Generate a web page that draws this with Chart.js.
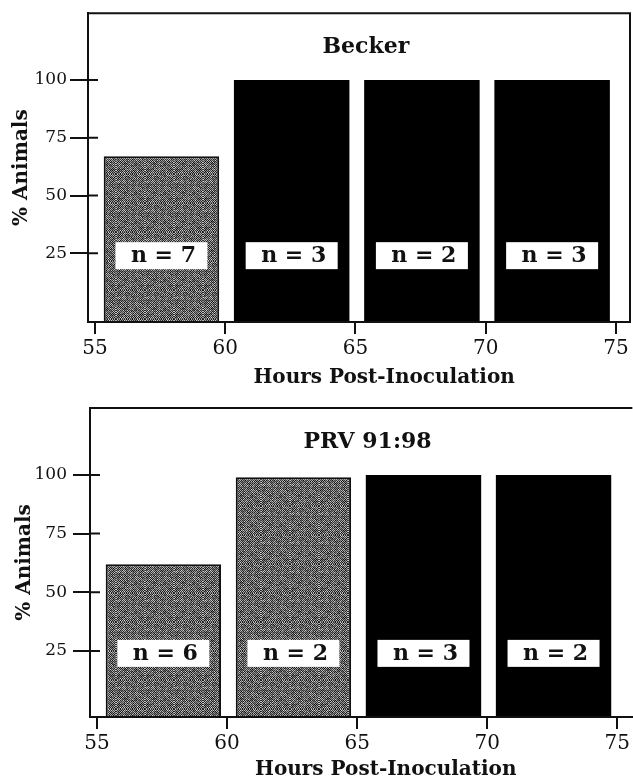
<!DOCTYPE html>
<html lang="en">
<head>
<meta charset="UTF-8">
<title>% Animals by hours post-inoculation</title>
<script src="https://cdn.jsdelivr.net/npm/chart.js"></script>
<style>
    body { margin: 0; background: #fff; }
    .panel { position: relative; width: 633px; }
    #top { height: 390px; }
    #bottom { height: 392px; }
</style>
</head>
<body>
<div class="panel" id="top"><canvas id="beckerChart"></canvas></div>
<div class="panel" id="bottom"><canvas id="prvChart"></canvas></div>
<script>
// bar centres, hours post-inoculation
const hours = [57.55, 62.55, 67.55, 72.55];
const xTicks = [55, 60, 65, 70, 75];
const yTicks = [25, 50, 75, 100];

// Becker
const beckerPct = [67, 100, 100, 100];
const beckerN = [7, 3, 2, 3];
const beckerFill = ['stipple', 'solid', 'solid', 'solid'];

// PRV 91:98
const prvPct = [62, 99, 100, 100];
const prvN = [6, 2, 3, 2];
const prvFill = ['stipple', 'stipple', 'solid', 'solid'];

const SERIF = '"DejaVu Serif", serif';
const INK = '#111';

// grainy checker texture for the stippled bars (deterministic hash, no randomness)
function stipple() {
    const N = 29;
    const c = document.createElement('canvas');
    c.width = c.height = N;
    const g = c.getContext('2d');
    for (let i = 0; i < N; i++) {
        for (let j = 0; j < N; j++) {
            const h = ((i * 73 + j * 151 + i * j * 17) % 97) / 97;
            const blot = ((Math.floor(i / 3) * 11 + Math.floor(j / 4) * 7 + i * j) % 7) / 7;
            let s = (i + j) % 2 ? 130 + h * 90 : 30 + h * 60;
            s -= blot * 45;
            s = Math.round(Math.max(15, Math.min(235, s)));
            g.fillStyle = `rgb(${s},${s},${s})`;
            g.fillRect(i, j, 1, 1);
        }
    }
    return g.createPattern(c, 'repeat');
}
const texture = stipple();

// frame, inner tick stubs, n boxes, titles
const panelDecor = {
    id: 'panelDecor',
    afterDatasetsDraw(chart, args, opts) {
        const { ctx, chartArea: a, scales: { x, y } } = chart;
        ctx.save();
        ctx.strokeStyle = INK;
        ctx.lineWidth = 2;
        ctx.beginPath();
        ctx.moveTo(a.left, a.bottom);
        ctx.lineTo(a.left, a.top);
        ctx.lineTo(a.right, a.top);
        if (opts.rightEdge) ctx.lineTo(a.right, a.bottom);
        ctx.moveTo(a.left - 1, a.bottom);
        ctx.lineTo(a.right, a.bottom);
        yTicks.forEach(v => {
            const py = y.getPixelForValue(v);
            ctx.moveTo(a.left, py);
            ctx.lineTo(a.left + 10, py);
        });
        ctx.stroke();

        ctx.textAlign = 'center';
        ctx.textBaseline = 'middle';
        const cy = y.getPixelForValue(opts.labelAt);
        chart.getDatasetMeta(0).data.forEach((bar, i) => {
            ctx.fillStyle = '#fff';
            ctx.fillRect(bar.x - 46, cy - 13.5, 92, 27);
            ctx.fillStyle = INK;
            ctx.font = `bold 22px ${SERIF}`;
            ctx.fillText('n = ' + opts.counts[i], bar.x + 2, cy + 1);
        });

        ctx.font = `bold 22px ${SERIF}`;
        ctx.fillText(opts.title, x.getPixelForValue(65.4), y.getPixelForValue(114));
        ctx.font = `bold 20px ${SERIF}`;
        ctx.fillText('Hours Post-Inoculation', x.getPixelForValue(66.1), chart.height - 12);
        ctx.restore();
    }
};

function makeChart(id, pct, counts, fills, title, frame) {
    const ctx = document.getElementById(id).getContext('2d');
    return new Chart(ctx, {
        type: 'bar',
        data: {
            datasets: [{
                data: hours.map((h, i) => ({ x: h, y: pct[i] })),
                base: frame.yMin,
                backgroundColor: fills.map(f => f === 'stipple' ? texture : '#000'),
                borderColor: INK,
                borderWidth: fills.map(f => f === 'stipple' ? 2 : 0),
                categoryPercentage: 1,
                barPercentage: 0.887
            }]
        },
        options: {
            responsive: true,
            maintainAspectRatio: false,
            animation: false,
            layout: { padding: { left: 0, top: frame.top, right: frame.right, bottom: 0 } },
            plugins: {
                legend: { display: false },
                tooltip: { enabled: false },
                panelDecor: { counts: counts, title: title, labelAt: 24, rightEdge: frame.rightEdge }
            },
            scales: {
                x: {
                    type: 'linear',
                    min: frame.xMin,
                    max: frame.xMax,
                    offset: false,
                    afterBuildTicks: s => { s.ticks = xTicks.map(v => ({ value: v })); },
                    afterFit: s => { s.height = frame.xHeight; },
                    grid: { offset: false, drawOnChartArea: false, drawTicks: true, tickLength: 12, color: INK, lineWidth: 2 },
                    border: { display: true, color: INK, width: 2 },
                    ticks: { color: INK, padding: 3, maxRotation: 0, font: { family: SERIF, size: 20 } }
                },
                y: {
                    min: frame.yMin,
                    max: frame.yMax,
                    afterBuildTicks: s => { s.ticks = yTicks.map(v => ({ value: v })); },
                    afterFit: s => { s.width = frame.yWidth; },
                    grid: { drawOnChartArea: false, drawTicks: true, tickLength: frame.tickLen, color: INK, lineWidth: 2 },
                    border: { display: true, color: INK, width: 2 },
                    ticks: { color: INK, padding: frame.tickPad, font: { family: SERIF, size: 17 } },
                    title: {
                        display: true,
                        text: '% Animals',
                        color: INK,
                        padding: { top: frame.titlePad, bottom: 0 },
                        font: { family: SERIF, size: 20, weight: 'bold' }
                    }
                }
            }
        },
        plugins: [panelDecor]
    });
}

makeChart('beckerChart', beckerPct, beckerN, beckerFill, 'Becker', {
    top: 12, right: 3, xHeight: 68, yWidth: 88, rightEdge: true,
    xMin: 54.73, xMax: 75.54, yMin: -4.7, yMax: 128.9,
    tickLen: 18, tickPad: 3, titlePad: 10
});

makeChart('prvChart', prvPct, prvN, prvFill, 'PRV 91:98', {
    top: 18, right: 0, xHeight: 65, yWidth: 90, rightEdge: false,
    xMin: 54.73, xMax: 75.58, yMin: -3.1, yMax: 128.5,
    tickLen: 17, tickPad: 6, titlePad: 13
});
</script>
</body>
</html>
